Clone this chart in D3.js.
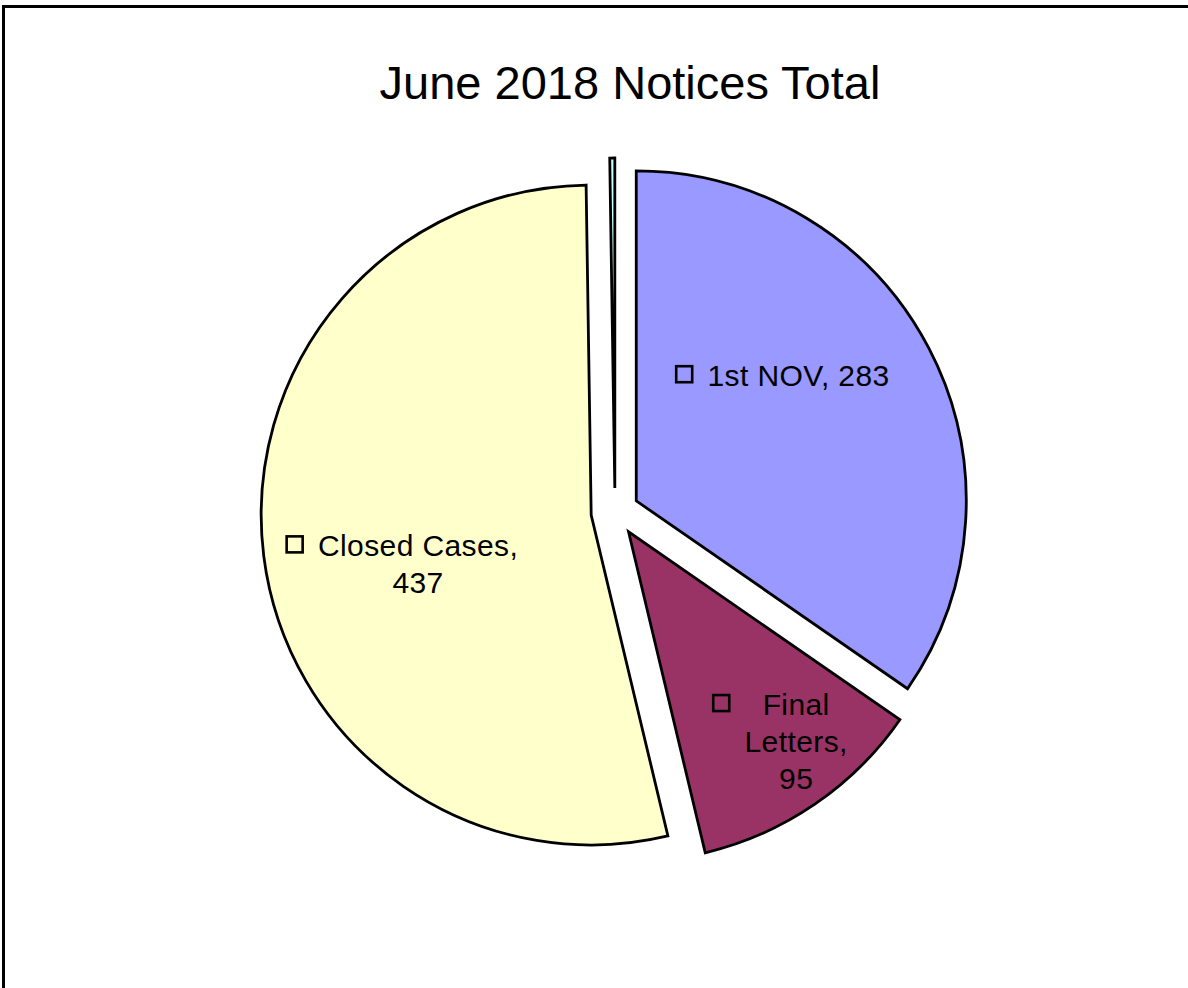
<!DOCTYPE html>
<html>
<head>
<meta charset="utf-8">
<style>
  body { margin: 0; background: #fff; }
  text { font-family: "Liberation Sans", Arial, sans-serif; fill: #000; }
  .lbl { letter-spacing: 0.4px; }
</style>
</head>
<body>
<svg width="1188" height="988"></svg>
<script src="https://d3js.org/d3.v7.min.js"></script>
<script>

// data
var categories = ["1st NOV", "Final Letters", "Closed Cases", "Other"];
var values = [283, 95, 437, 2];
var colors = ["#9999FF", "#993366", "#FFFFCC", "#CCFFFF"];
var showLabel = [true, true, true, false];

var svg = d3.select("svg"),
    width = +svg.attr("width"),
    height = +svg.attr("height");

var cx = 615, cy = 512, radius = 330, explode = 24;

// chart frame (runs off the right and bottom edge)
svg.append("rect")
    .attr("x", 3.5).attr("y", 6.5)
    .attr("width", 1200).attr("height", 1000)
    .attr("fill", "#fff")
    .attr("stroke", "#000")
    .attr("stroke-width", 3);

svg.append("text")
    .attr("x", 630)
    .attr("y", 99)
    .attr("text-anchor", "middle")
    .style("font-size", "47px")
    .text("June 2018 Notices Total");

var data = categories.map(function(c, i) {
  return { name: c, value: values[i], color: colors[i], label: showLabel[i] };
});

var pie = d3.pie().sort(null).value(function(d) { return d.value; });
var arc = d3.arc().innerRadius(0).outerRadius(radius);

var arcs = pie(data);

function offset(d, r) {
  var a = (d.startAngle + d.endAngle) / 2;
  return [Math.sin(a) * r, -Math.cos(a) * r];
}

var g = svg.append("g").attr("transform", "translate(" + cx + "," + cy + ")");

g.selectAll(".slice")
  .data(arcs)
  .enter().append("path")
    .attr("class", "slice")
    .attr("transform", function(d) {
      var o = offset(d, explode);
      return "translate(" + o[0] + "," + o[1] + ")";
    })
    .attr("d", arc)
    .attr("fill", function(d) { return d.data.color; })
    .attr("stroke", "#000")
    .attr("stroke-width", 2.8)
    .attr("stroke-linejoin", "miter");

// data labels (legend key + "name, value")
var fontSize = 30, lineH = 37, keySize = 16, keyGap = 14;
var labelLayout = {
  "1st NOV":      { wrap: 1000, dx: -82, dy: -6 },
  "Final Letters":{ wrap: 112,  dx: 6,   dy: -3 },
  "Closed Cases": { wrap: 215,  dx: 66,  dy: 17 }
};

var measure = svg.append("text").attr("class", "lbl").style("font-size", fontSize + "px");
function textW(s) { measure.text(s); return measure.node().getComputedTextLength(); }

arcs.filter(function(d) { return d.data.label; }).forEach(function(d) {
  var lay = labelLayout[d.data.name];
  var words = (d.data.name + ", " + d.data.value).split(" ");
  var lines = [], cur = "";
  words.forEach(function(w) {
    var t = cur ? cur + " " + w : w;
    if (cur && textW(t) > lay.wrap) { lines.push(cur); cur = w; }
    else cur = t;
  });
  lines.push(cur);

  var textWidth = d3.max(lines, textW);
  var blockW = keySize + 2.6 + keyGap + textWidth;

  var o1 = offset(d, explode), o2 = offset(d, radius * 0.78);
  var ax = cx + o1[0] + o2[0] + lay.dx,
      ay = cy + o1[1] + o2[1] + lay.dy;

  var left = ax - blockW / 2;
  var firstBase = ay - (lines.length - 1) * lineH / 2 + fontSize * 0.36;
  var textCenter = left + keySize + 2.6 + keyGap + textWidth / 2;

  svg.append("rect")
    .attr("x", left + 1.3)
    .attr("y", firstBase - 20)
    .attr("width", keySize)
    .attr("height", keySize)
    .attr("fill", "none")
    .attr("stroke", "#000")
    .attr("stroke-width", 2.6);

  var t = svg.append("text")
    .attr("class", "lbl")
    .attr("text-anchor", "middle")
    .style("font-size", fontSize + "px");
  lines.forEach(function(line, i) {
    t.append("tspan")
      .attr("x", textCenter)
      .attr("y", firstBase + i * lineH)
      .text(line);
  });
});

measure.remove();
</script>
</body>
</html>
